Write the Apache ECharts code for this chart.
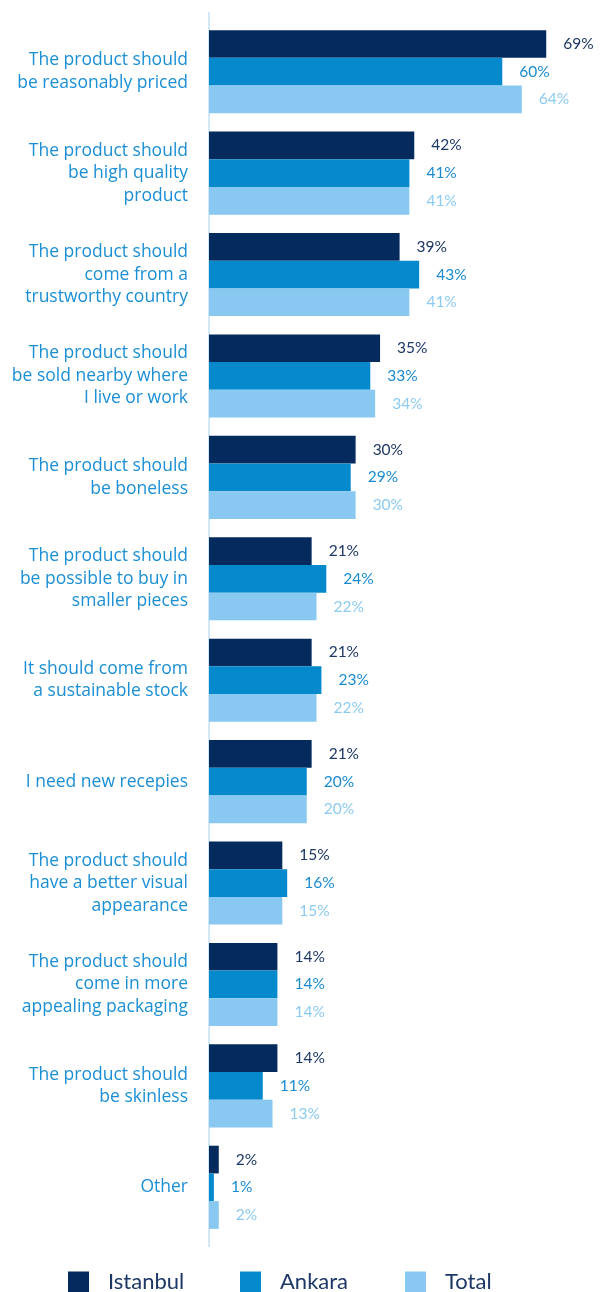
<!DOCTYPE html>
<html>
<head>
<meta charset="utf-8">
<style>
  html, body { margin: 0; padding: 0; background: #ffffff; }
  #chart { width: 602px; height: 1292px; }
</style>
<script src="https://cdn.jsdelivr.net/npm/echarts@6/dist/echarts.min.js"></script>
</head>
<body>
<div id="chart"></div>
<script>
// Purchase drivers by city, share of respondents (%)
const categories = [
  'The product should\nbe reasonably priced',
  'The product should\nbe high quality\nproduct',
  'The product should\ncome from a\ntrustworthy country',
  'The product should\nbe sold nearby where\nI live or work',
  'The product should\nbe boneless',
  'The product should\nbe possible to buy in\nsmaller pieces',
  'It should come from\na sustainable stock',
  'I need new recepies',
  'The product should\nhave a better visual\nappearance',
  'The product should\ncome in more\nappealing packaging',
  'The product should\nbe skinless',
  'Other'
];
const istanbul = [69, 42, 39, 35, 30, 21, 21, 21, 15, 14, 14, 2];
const ankara   = [60, 41, 43, 33, 29, 24, 23, 20, 16, 14, 11, 1];
const total    = [64, 41, 41, 34, 30, 22, 22, 20, 15, 14, 13, 2];

const FONT = 'Lato';
const LABEL_FONT = 'Open Sans';
const GRID = { left: 209, top: 21, width: 391, height: 1217 };

function barSeries(name, data, color, labelColor) {
  return {
    name: name,
    type: 'bar',
    data: data,
    barGap: '0%',
    barCategoryGap: '18%',
    itemStyle: { color: color },
    label: {
      show: true,
      position: 'right',
      distance: 17,
      formatter: '{c}%',
      fontFamily: FONT,
      fontSize: 15.5,
      color: labelColor
    },
    emphasis: { disabled: true }
  };
}

function legendFor(name, left) {
  return {
    data: [name],
    left: left,
    top: 1271,
    padding: 0,
    itemWidth: 21,
    itemHeight: 21,
    icon: 'rect',
    selectedMode: false,
    textStyle: {
      fontFamily: FONT,
      fontSize: 22,
      color: '#1d3766',
      padding: [6, 0, 0, 14]
    }
  };
}

const chart = echarts.init(document.getElementById('chart'));
chart.setOption({
  animation: false,
  backgroundColor: '#ffffff',
  grid: GRID,
  xAxis: {
    type: 'value',
    min: 0,
    max: 80,
    show: false
  },
  yAxis: {
    type: 'category',
    data: categories,
    inverse: true,
    axisLine: { show: false },
    axisTick: { show: false },
    axisLabel: {
      margin: 21,
      fontFamily: LABEL_FONT,
      fontSize: 17.5,
      lineHeight: 22.5,
      padding: [4, 0, 0, 0],
      color: '#1b8fd5',
      align: 'right'
    }
  },
  legend: [
    legendFor('Istanbul', 68),
    legendFor('Ankara', 240),
    legendFor('Total', 405)
  ],
  graphic: [{
    type: 'line',
    shape: { x1: 209, y1: 12, x2: 209, y2: 1247 },
    style: { stroke: '#c3e1f5', lineWidth: 1.5 },
    silent: true
  }],
  series: [
    barSeries('Istanbul', istanbul, '#052a5e', '#1d3766'),
    barSeries('Ankara', ankara, '#0489cd', '#1a8bd0'),
    barSeries('Total', total, '#89c8f1', '#8ccbf1')
  ]
});
</script>
</body>
</html>
